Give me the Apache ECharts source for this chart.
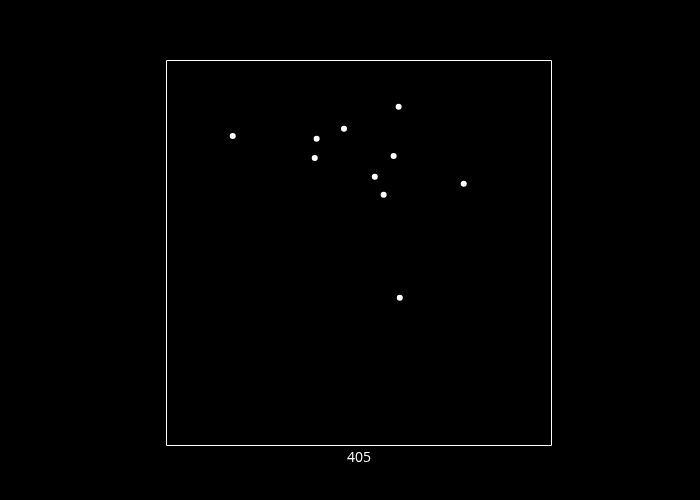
<!DOCTYPE html>
<html>
<head>
<meta charset="utf-8">
<script src="https://cdn.jsdelivr.net/npm/echarts@6/dist/echarts.min.js"></script>
<style>
  html, body { margin: 0; padding: 0; background: #000; }
  #main { width: 700px; height: 500px; }
</style>
</head>
<body>
<div id="main"></div>
<script>
// point positions (axis range 0..100 on both sides)
const xValues = [17.2, 39.0, 46.1, 60.3, 38.5, 59.0, 54.1, 56.4, 77.2, 60.6];
const yValues = [80.4, 79.7, 82.3, 88.0, 74.7, 75.2, 69.8, 65.1, 68.0, 38.4];
const xTitle = '405';

const points = xValues.map((x, i) => [x, yValues[i]]);

const chart = echarts.init(document.getElementById('main'));
chart.setOption({
  backgroundColor: '#000',
  animation: false,
  grid: {
    left: 166.5, top: 60.5, width: 385, height: 385,
    show: true, borderColor: '#fff', borderWidth: 1, backgroundColor: 'transparent'
  },
  xAxis: {
    type: 'value', min: 0, max: 100,
    name: xTitle, nameLocation: 'middle', nameGap: 6,
    nameTextStyle: { color: '#fff', fontSize: 14, fontFamily: 'Open Sans', verticalAlign: 'top' },
    axisLine: { show: false }, axisTick: { show: false },
    axisLabel: { show: false }, splitLine: { show: false }
  },
  yAxis: {
    type: 'value', min: 0, max: 100,
    axisLine: { show: false }, axisTick: { show: false },
    axisLabel: { show: false }, splitLine: { show: false }
  },
  series: [{
    type: 'scatter',
    data: points,
    symbolSize: 6,
    itemStyle: { color: '#fff', opacity: 1 }
  }]
});
</script>
</body>
</html>
